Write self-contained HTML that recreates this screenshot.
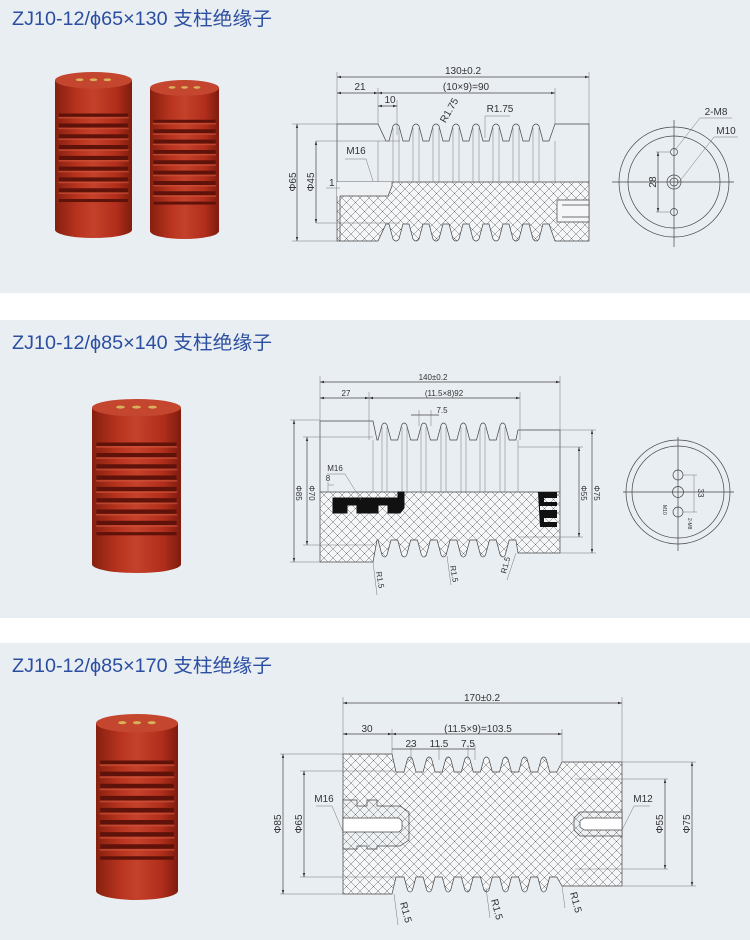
<!DOCTYPE html>
<html><head><meta charset="utf-8"><style>
html,body{margin:0;padding:0;background:#fff}
svg{display:block}
text{font-family:"Liberation Sans","Noto Sans CJK SC",sans-serif;fill:#333}
.t{font-size:19px;fill:#2b4ea0}
.d{font-size:10px}
.s{font-size:8px}
.l{stroke:#444;stroke-width:.7;fill:none}
.g{stroke:#777;stroke-width:.5;fill:none}
</style></head><body>
<svg width="750" height="940" viewBox="0 0 750 940" xmlns="http://www.w3.org/2000/svg">
<defs>
<pattern id="h" patternUnits="userSpaceOnUse" width="9" height="9">
<path d="M0,0L9,9M9,0L0,9" stroke="#666" stroke-width=".5"/>
</pattern>
<marker id="a" viewBox="0 0 10 10" refX="10" refY="5" markerWidth="6" markerHeight="6" orient="auto-start-reverse"><path d="M0,2L10,5L0,8z" fill="#333"/></marker>
<linearGradient id="cg" x1="0" x2="1" y1="0" y2="0">
<stop offset="0" stop-color="#86200f"/><stop offset=".3" stop-color="#b9341f"/><stop offset=".5" stop-color="#c4412a"/><stop offset=".8" stop-color="#b02e1b"/><stop offset="1" stop-color="#7e1c0e"/>
</linearGradient>
<linearGradient id="rg" x1="0" x2="0" y1="0" y2="1">
<stop offset="0" stop-color="#d0553a"/><stop offset=".4" stop-color="#bb3822"/><stop offset="1" stop-color="#8a2010"/>
</linearGradient>
<symbol id="cyl" viewBox="0 0 100 300" preserveAspectRatio="none">
<rect x="0" y="15" width="100" height="270" fill="url(#cg)"/>
<ellipse cx="50" cy="285" rx="50" ry="15" fill="url(#cg)"/>
<rect x="5" y="75" width="90" height="160" fill="#5e120a"/>
<g fill="url(#cg)">
<rect x="0" y="81" width="100" height="12" rx="6"/>
<rect x="0" y="100.5" width="100" height="12" rx="6"/>
<rect x="0" y="120" width="100" height="12" rx="6"/>
<rect x="0" y="139.5" width="100" height="12" rx="6"/>
<rect x="0" y="159" width="100" height="12" rx="6"/>
<rect x="0" y="178.5" width="100" height="12" rx="6"/>
<rect x="0" y="198" width="100" height="12" rx="6"/>
<rect x="0" y="217.5" width="100" height="12" rx="6"/>
</g>
<g fill="#d4573d" opacity=".6">
<rect x="4" y="81" width="92" height="3" rx="1.5"/>
<rect x="4" y="100.5" width="92" height="3" rx="1.5"/>
<rect x="4" y="120" width="92" height="3" rx="1.5"/>
<rect x="4" y="139.5" width="92" height="3" rx="1.5"/>
<rect x="4" y="159" width="92" height="3" rx="1.5"/>
<rect x="4" y="178.5" width="92" height="3" rx="1.5"/>
<rect x="4" y="198" width="92" height="3" rx="1.5"/>
<rect x="4" y="217.5" width="92" height="3" rx="1.5"/>
</g>
<rect x="0" y="236" width="100" height="49" fill="url(#cg)"/>
<ellipse cx="50" cy="15" rx="50" ry="15" fill="#c4462f"/>
<ellipse cx="32" cy="14" rx="5" ry="2.5" fill="#d8b25a"/>
<ellipse cx="50" cy="14" rx="5" ry="2.5" fill="#d8b25a"/>
<ellipse cx="68" cy="14" rx="5" ry="2.5" fill="#d8b25a"/>
</symbol>
</defs>

<rect x="0" y="0" width="750" height="293" fill="#e9eef3"/>
<rect x="0" y="320" width="750" height="298" fill="#e9eef3"/>
<rect x="0" y="643" width="750" height="297" fill="#e9eef3"/>

<text class="t" x="12" y="25" textLength="260" lengthAdjust="spacingAndGlyphs">ZJ10-12/ϕ65×130 支柱绝缘子</text>
<text class="t" x="12" y="349" textLength="260" lengthAdjust="spacingAndGlyphs">ZJ10-12/ϕ85×140 支柱绝缘子</text>
<text class="t" x="12" y="672" textLength="260" lengthAdjust="spacingAndGlyphs">ZJ10-12/ϕ85×170 支柱绝缘子</text>

<use href="#cyl" x="55" y="72" width="77" height="166"/>
<use href="#cyl" x="150" y="80" width="69" height="159"/>
<use href="#cyl" x="92" y="399" width="89" height="174"/>
<use href="#cyl" x="96" y="714" width="82" height="186"/>

<!-- ===== PANEL 1 ===== -->
<path d="M337,182H589V241H555L549,224 l-6,0 l-4,15 q-3,4 -6,0 l-4,-15 l-6,0 l-4,15 q-3,4 -6,0 l-4,-15 l-6,0 l-4,15 q-3,4 -6,0 l-4,-15 l-6,0 l-4,15 q-3,4 -6,0 l-4,-15 l-6,0 l-4,15 q-3,4 -6,0 l-4,-15 l-6,0 l-4,15 q-3,4 -6,0 l-4,-15 l-6,0 l-4,15 q-3,4 -6,0 l-4,-15 l-6,0 l-4,15 q-3,4 -6,0 l-4,-15 L386,224 L378,241H337Z" style="fill:#f4f6f8;stroke:none"/>
<path d="M337,182H589V241H555L549,224 l-6,0 l-4,15 q-3,4 -6,0 l-4,-15 l-6,0 l-4,15 q-3,4 -6,0 l-4,-15 l-6,0 l-4,15 q-3,4 -6,0 l-4,-15 l-6,0 l-4,15 q-3,4 -6,0 l-4,-15 l-6,0 l-4,15 q-3,4 -6,0 l-4,-15 l-6,0 l-4,15 q-3,4 -6,0 l-4,-15 l-6,0 l-4,15 q-3,4 -6,0 l-4,-15 l-6,0 l-4,15 q-3,4 -6,0 l-4,-15 L386,224 L378,241H337Z" class="l" style="fill:url(#h)"/>
<path class="l" d="M337,182V124H378L386,141H389 l4,-15 q3,-4 6,0 l4,15 l6,0 l4,-15 q3,-4 6,0 l4,15 l6,0 l4,-15 q3,-4 6,0 l4,15 l6,0 l4,-15 q3,-4 6,0 l4,15 l6,0 l4,-15 q3,-4 6,0 l4,15 l6,0 l4,-15 q3,-4 6,0 l4,15 l6,0 l4,-15 q3,-4 6,0 l4,15 l6,0 l4,-15 q3,-4 6,0 l4,15 l6,0 L555,124H589V182"/>
<path class="g" d="M393,128V182M399,128V182M413,128V182M419,128V182M433,128V182M439,128V182M453,128V182M459,128V182M473,128V182M479,128V182M493,128V182M499,128V182M513,128V182M519,128V182M533,128V182M539,128V182M378,141V182M555,141V182M316,141H400M316,223H400"/>
<path d="M340,196H388L392,186V182H337V196Z" style="fill:#eef1f4;stroke:none"/>
<path class="l" d="M340,196H388L392,186V182M340,196V241"/>
<path d="M557,200H589V222H557Z" style="fill:#f4f6f8" class="l"/>
<path class="l" d="M562,205H589M562,217H589"/>
<path class="g" d="M337,72V124M589,72V124M378,88V124M555,88V124M397,100V135M292,124H337M292,241H337"/>
<line class="l" x1="337" y1="77" x2="589" y2="77" marker-start="url(#a)" marker-end="url(#a)"/>
<line class="l" x1="337" y1="93" x2="378" y2="93" marker-start="url(#a)" marker-end="url(#a)"/>
<line class="l" x1="378" y1="93" x2="555" y2="93" marker-start="url(#a)" marker-end="url(#a)"/>
<line class="l" x1="378" y1="106" x2="397" y2="106" marker-start="url(#a)" marker-end="url(#a)"/>
<line class="l" x1="297" y1="124" x2="297" y2="241" marker-start="url(#a)" marker-end="url(#a)"/>
<line class="l" x1="316" y1="141" x2="316" y2="223" marker-start="url(#a)" marker-end="url(#a)"/>
<text class="d" x="463" y="74" text-anchor="middle">130±0.2</text>
<text class="d" x="360" y="90" text-anchor="middle">21</text>
<text class="d" x="466" y="90" text-anchor="middle">(10×9)=90</text>
<text class="d" x="390" y="103" text-anchor="middle">10</text>
<text class="d" transform="translate(296,182) rotate(-90)" text-anchor="middle">Φ65</text>
<text class="d" transform="translate(314,182) rotate(-90)" text-anchor="middle">Φ45</text>
<text class="d" transform="translate(452,112) rotate(-60)" text-anchor="middle">R1.75</text>
<text class="d" x="500" y="112" text-anchor="middle">R1.75</text>
<path class="g" d="M485,116H510M485,116V138"/>
<text class="d" x="356" y="154" text-anchor="middle">M16</text>
<path class="g" d="M345,159H366L373,181"/>
<text class="d" x="329" y="186">1</text>
<path class="g" d="M326,188H340"/>
<circle class="l" cx="674" cy="182" r="55"/>
<circle class="l" cx="674" cy="182" r="46"/>
<path class="l" d="M612,182H734M674,120V247"/>
<circle class="l" cx="674" cy="152" r="3.5"/><circle class="l" cx="674" cy="212" r="3.5"/>
<circle class="l" cx="674" cy="182" r="7"/><circle class="l" cx="674" cy="182" r="4"/>
<path class="g" d="M656,152H670M656,212H670"/>
<line class="l" x1="658" y1="152" x2="658" y2="212" marker-start="url(#a)" marker-end="url(#a)"/>
<text class="d" transform="translate(656,182) rotate(-90)" text-anchor="middle">28</text>
<text class="d" x="716" y="115" text-anchor="middle">2-M8</text>
<path class="g" d="M700,118H732M700,118L675,150"/>
<text class="d" x="726" y="134" text-anchor="middle">M10</text>
<path class="g" d="M714,137H738M714,137L676,186"/>

<!-- ===== PANEL 2 ===== -->
<path d="M320,492H560V553H518L515.9,540 l-6.7,0 l-4,15 q-2.5,4 -5,0 l-4,-15 l-6.7,0 l-4,15 q-2.5,4 -5,0 l-4,-15 l-6.7,0 l-4,15 q-2.5,4 -5,0 l-4,-15 l-6.7,0 l-4,15 q-2.5,4 -5,0 l-4,-15 l-6.7,0 l-4,15 q-2.5,4 -5,0 l-4,-15 l-6.7,0 l-4,15 q-2.5,4 -5,0 l-4,-15 l-6.7,0 l-4,15 q-2.5,4 -5,0 l-4,-15 L377,540 L373,562H320Z" style="fill:#f4f6f8;stroke:none"/>
<path d="M320,492H560V553H518L515.9,540 l-6.7,0 l-4,15 q-2.5,4 -5,0 l-4,-15 l-6.7,0 l-4,15 q-2.5,4 -5,0 l-4,-15 l-6.7,0 l-4,15 q-2.5,4 -5,0 l-4,-15 l-6.7,0 l-4,15 q-2.5,4 -5,0 l-4,-15 l-6.7,0 l-4,15 q-2.5,4 -5,0 l-4,-15 l-6.7,0 l-4,15 q-2.5,4 -5,0 l-4,-15 l-6.7,0 l-4,15 q-2.5,4 -5,0 l-4,-15 L377,540 L373,562H320Z" class="l" style="fill:url(#h)"/>
<path class="l" d="M320,492V421H373L377,440H378 l4,-15 q2.5,-4 5,0 l4,15 l6.7,0 l4,-15 q2.5,-4 5,0 l4,15 l6.7,0 l4,-15 q2.5,-4 5,0 l4,15 l6.7,0 l4,-15 q2.5,-4 5,0 l4,15 l6.7,0 l4,-15 q2.5,-4 5,0 l4,15 l6.7,0 l4,-15 q2.5,-4 5,0 l4,15 l6.7,0 l4,-15 q2.5,-4 5,0 l4,15 l6.7,0 L518,430H560V492"/>
<path class="g" d="M382,427V492M387,427V492M402,427V492M407,427V492M421,427V492M426,427V492M441,427V492M446,427V492M461,427V492M466,427V492M480,427V492M485,427V492M500,427V492M505,427V492M373,440V492M518,440V492"/>
<path d="M333,513V498H398V492H404V508L400,513H388V505H378V513H357V505H347V513Z" style="fill:#111;stroke:#111"/>
<path d="M538,492H557V498H544V502H557V506H540V510H557V518H544V522H557V527H540Z" style="fill:#111"/>
<path class="g" d="M320,376V421M560,376V430M369,392V440M520,392V440M419,410V426M431,410V426M290,420H320M303,437H373M303,545H373M290,562H373M518,447H583M518,537H583M560,430H596M560,553H596M328,482V492"/>
<line class="l" x1="320" y1="382" x2="560" y2="382" marker-start="url(#a)" marker-end="url(#a)"/>
<line class="l" x1="320" y1="398" x2="369" y2="398" marker-start="url(#a)" marker-end="url(#a)"/>
<line class="l" x1="369" y1="398" x2="520" y2="398" marker-start="url(#a)" marker-end="url(#a)"/>
<line class="l" x1="411" y1="415" x2="439" y2="415"/>
<line class="l" x1="294" y1="420" x2="294" y2="562" marker-start="url(#a)" marker-end="url(#a)"/>
<line class="l" x1="307" y1="437" x2="307" y2="545" marker-start="url(#a)" marker-end="url(#a)"/>
<line class="l" x1="579" y1="447" x2="579" y2="537" marker-start="url(#a)" marker-end="url(#a)"/>
<line class="l" x1="592" y1="430" x2="592" y2="553" marker-start="url(#a)" marker-end="url(#a)"/>
<text class="s" x="433" y="380" text-anchor="middle">140±0.2</text>
<text class="s" x="346" y="396" text-anchor="middle">27</text>
<text class="s" x="444" y="396" text-anchor="middle">(11.5×8)92</text>
<text class="s" x="442" y="413" text-anchor="middle">7.5</text>
<text class="s" transform="translate(296,493) rotate(90)" text-anchor="middle">Φ85</text>
<text class="s" transform="translate(309,493) rotate(90)" text-anchor="middle">Φ70</text>
<text class="s" transform="translate(581,493) rotate(90)" text-anchor="middle">Φ55</text>
<text class="s" transform="translate(594,493) rotate(90)" text-anchor="middle">Φ75</text>
<text class="s" x="335" y="471" text-anchor="middle">M16</text>
<path class="g" d="M327,474H345L361,500"/>
<text class="s" x="328" y="481" text-anchor="middle">8</text>
<path class="g" d="M328,485H334"/>
<text class="s" transform="translate(376,572) rotate(80)">R1.5</text>
<text class="s" transform="translate(450,566) rotate(80)">R1.5</text>
<text class="s" transform="translate(506,574) rotate(-75)">R1.5</text>
<path class="g" d="M373,562L377,595M447,556L451,585M516,553L507,580"/>
<circle class="l" cx="678" cy="492" r="52"/>
<circle class="l" cx="678" cy="492" r="46"/>
<path class="l" d="M623,492H734M678,437V551"/>
<circle class="l" cx="678" cy="475" r="5"/><circle class="l" cx="678" cy="492" r="5.5"/><circle class="l" cx="678" cy="512" r="5"/>
<path class="g" d="M683,475H697M683,512H697M694,475V512"/>
<text class="s" transform="translate(698,493) rotate(90)" text-anchor="middle">33</text>
<text class="s" transform="translate(663,505) rotate(90)" style="font-size:5px">M10</text>
<text class="s" transform="translate(688,518) rotate(90)" style="font-size:5px">2-M8</text>

<!-- ===== PANEL 3 ===== -->
<path d="M343,754H392L396,772H404 l3.5,-13 q2.5,-4 5,0 l3.5,13 l7.1,0 l3.5,-13 q2.5,-4 5,0 l3.5,13 l7.1,0 l3.5,-13 q2.5,-4 5,0 l3.5,13 l7.1,0 l3.5,-13 q2.5,-4 5,0 l3.5,13 l7.1,0 l3.5,-13 q2.5,-4 5,0 l3.5,13 l7.1,0 l3.5,-13 q2.5,-4 5,0 l3.5,13 l7.1,0 l3.5,-13 q2.5,-4 5,0 l3.5,13 l7.1,0 l3.5,-13 q2.5,-4 5,0 l3.5,13 l7.1,0 L562,762H622V886H562L556.8,877 l-7.1,0 l-3.5,13 q-2.5,4 -5,0 l-3.5,-13 l-7.1,0 l-3.5,13 q-2.5,4 -5,0 l-3.5,-13 l-7.1,0 l-3.5,13 q-2.5,4 -5,0 l-3.5,-13 l-7.1,0 l-3.5,13 q-2.5,4 -5,0 l-3.5,-13 l-7.1,0 l-3.5,13 q-2.5,4 -5,0 l-3.5,-13 l-7.1,0 l-3.5,13 q-2.5,4 -5,0 l-3.5,-13 l-7.1,0 l-3.5,13 q-2.5,4 -5,0 l-3.5,-13 l-7.1,0 l-3.5,13 q-2.5,4 -5,0 l-3.5,-13 L396,877L392,894H343Z" style="fill:#f4f6f8;stroke:none"/>
<path d="M343,754H392L396,772H404 l3.5,-13 q2.5,-4 5,0 l3.5,13 l7.1,0 l3.5,-13 q2.5,-4 5,0 l3.5,13 l7.1,0 l3.5,-13 q2.5,-4 5,0 l3.5,13 l7.1,0 l3.5,-13 q2.5,-4 5,0 l3.5,13 l7.1,0 l3.5,-13 q2.5,-4 5,0 l3.5,13 l7.1,0 l3.5,-13 q2.5,-4 5,0 l3.5,13 l7.1,0 l3.5,-13 q2.5,-4 5,0 l3.5,13 l7.1,0 l3.5,-13 q2.5,-4 5,0 l3.5,13 l7.1,0 L562,762H622V886H562L556.8,877 l-7.1,0 l-3.5,13 q-2.5,4 -5,0 l-3.5,-13 l-7.1,0 l-3.5,13 q-2.5,4 -5,0 l-3.5,-13 l-7.1,0 l-3.5,13 q-2.5,4 -5,0 l-3.5,-13 l-7.1,0 l-3.5,13 q-2.5,4 -5,0 l-3.5,-13 l-7.1,0 l-3.5,13 q-2.5,4 -5,0 l-3.5,-13 l-7.1,0 l-3.5,13 q-2.5,4 -5,0 l-3.5,-13 l-7.1,0 l-3.5,13 q-2.5,4 -5,0 l-3.5,-13 l-7.1,0 l-3.5,13 q-2.5,4 -5,0 l-3.5,-13 L396,877L392,894H343Z" class="l" style="fill:url(#h)"/>
<path d="M343,800H357V806H367V800H377V806H400L409,812V840L400,846H377V849H367V846H357V849H343Z" style="fill:#eef1f4;stroke:none"/>
<path d="M343,800H357V806H367V800H377V806H400L409,812V840L400,846H377V849H367V846H357V849H343Z" class="l" style="fill:url(#h)"/>
<path d="M343,818H399L402,821V829L399,832H343Z" class="l" style="fill:#fff"/>
<path d="M622,812H580L574,818V830L580,836H622Z" style="fill:#eef1f4;stroke:none"/>
<path d="M622,812H580L574,818V830L580,836H622Z" class="l" style="fill:url(#h)"/>
<path d="M622,818H584L580,821V827L584,830H622Z" class="l" style="fill:#fff"/>
<path class="g" d="M343,697V754M622,697V762M392,729V754M562,729V762M411,745V760M439,745V760M468,745V760M475,745V760M280,754H343M300,771H396M300,877H396M280,894H343M575,779H668M575,869H668M622,762H696M622,886H696"/>
<line class="l" x1="343" y1="703" x2="622" y2="703" marker-start="url(#a)" marker-end="url(#a)"/>
<line class="l" x1="343" y1="734" x2="392" y2="734" marker-start="url(#a)" marker-end="url(#a)"/>
<line class="l" x1="392" y1="734" x2="562" y2="734" marker-start="url(#a)" marker-end="url(#a)"/>
<line class="l" x1="392" y1="749" x2="475" y2="749"/>
<line class="l" x1="283" y1="754" x2="283" y2="894" marker-start="url(#a)" marker-end="url(#a)"/>
<line class="l" x1="304" y1="771" x2="304" y2="877" marker-start="url(#a)" marker-end="url(#a)"/>
<line class="l" x1="665" y1="779" x2="665" y2="869" marker-start="url(#a)" marker-end="url(#a)"/>
<line class="l" x1="692" y1="762" x2="692" y2="886" marker-start="url(#a)" marker-end="url(#a)"/>
<text class="d" x="482" y="701" text-anchor="middle">170±0.2</text>
<text class="d" x="367" y="732" text-anchor="middle">30</text>
<text class="d" x="478" y="732" text-anchor="middle">(11.5×9)=103.5</text>
<text class="d" x="411" y="747" text-anchor="middle">23</text>
<text class="d" x="439" y="747" text-anchor="middle">11.5</text>
<text class="d" x="468" y="747" text-anchor="middle">7.5</text>
<text class="d" transform="translate(281,824) rotate(-90)" text-anchor="middle">Φ85</text>
<text class="d" transform="translate(302,824) rotate(-90)" text-anchor="middle">Φ65</text>
<text class="d" transform="translate(663,824) rotate(-90)" text-anchor="middle">Φ55</text>
<text class="d" transform="translate(690,824) rotate(-90)" text-anchor="middle">Φ75</text>
<text class="d" x="324" y="802" text-anchor="middle">M16</text>
<path class="g" d="M316,806H332L343,832"/>
<text class="d" x="643" y="802" text-anchor="middle">M12</text>
<path class="g" d="M634,806H650M634,806L622,830"/>
<text class="d" transform="translate(400,903) rotate(75)">R1.5</text>
<text class="d" transform="translate(491,900) rotate(75)">R1.5</text>
<text class="d" transform="translate(570,893) rotate(75)">R1.5</text>
<path class="g" d="M394,894L398,925M486,888L490,918M562,886L565,908"/>
</svg>
</body></html>
